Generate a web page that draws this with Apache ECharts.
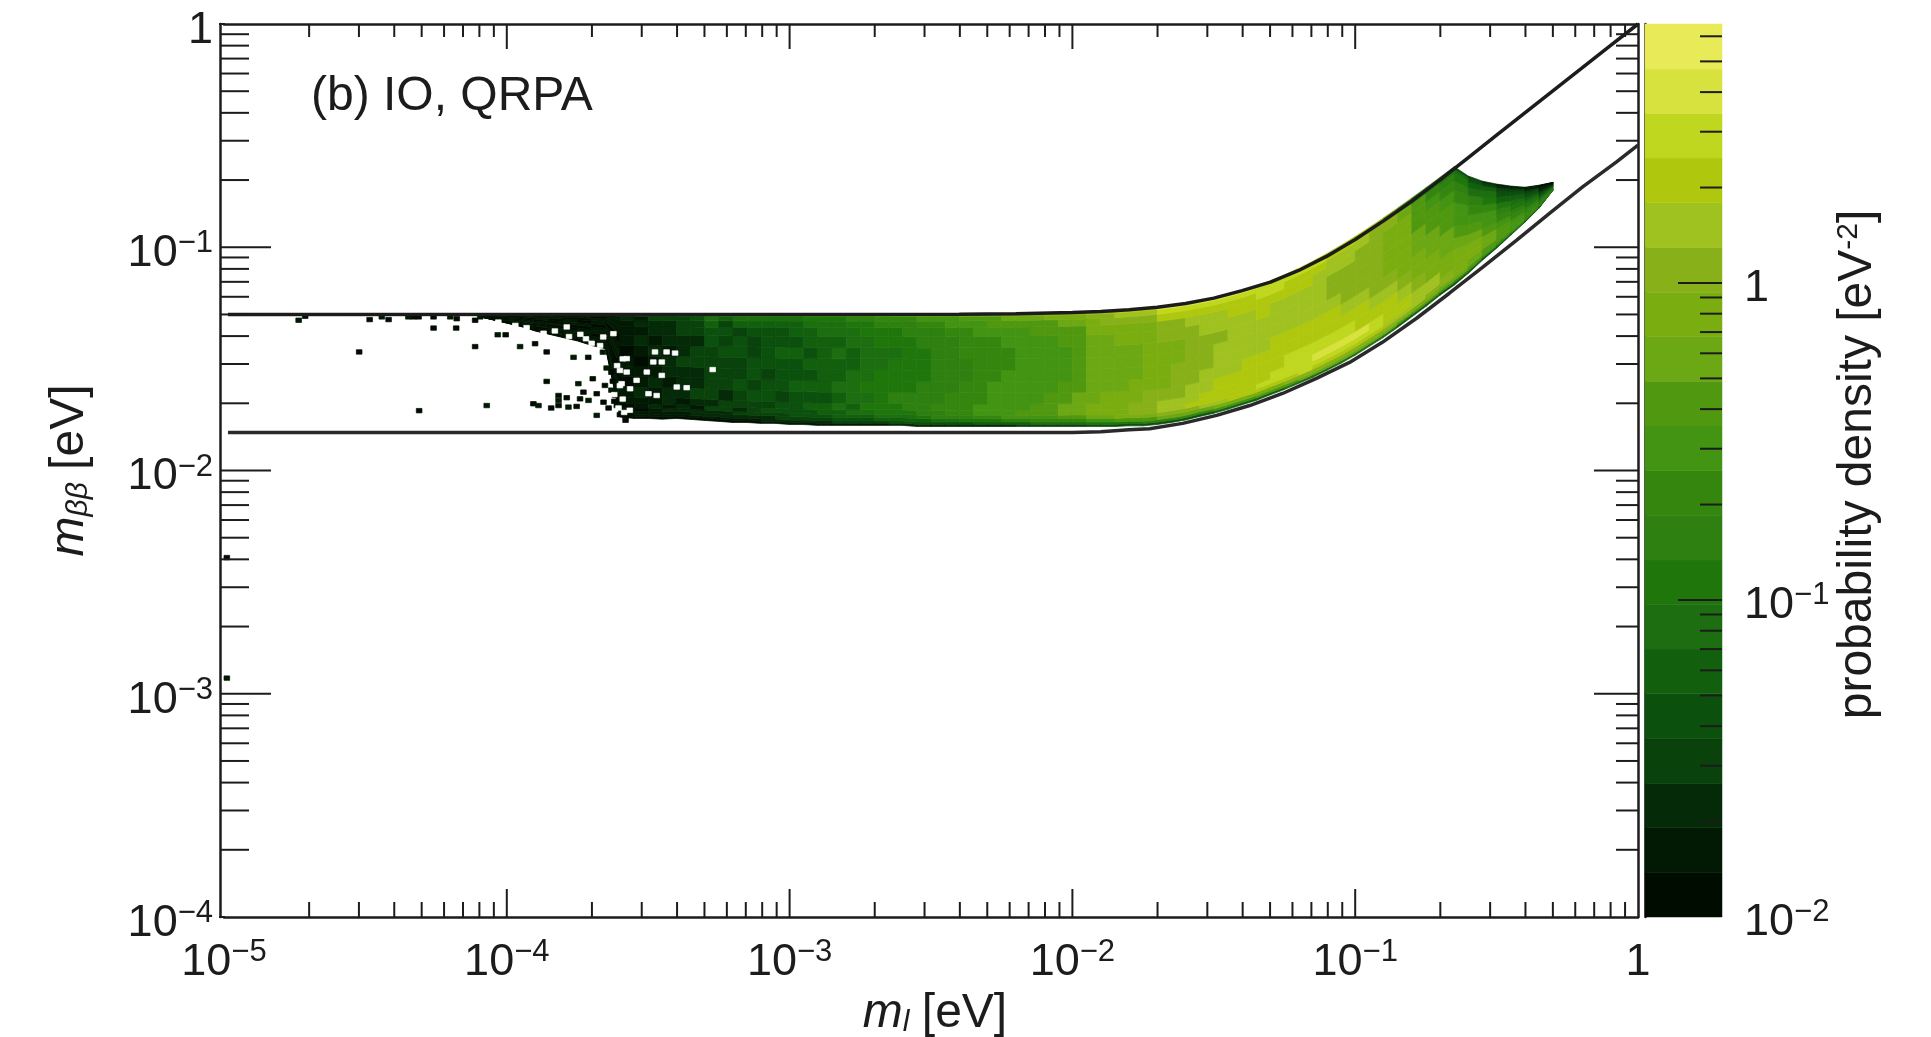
<!DOCTYPE html>
<html><head><meta charset="utf-8">
<style>html,body{margin:0;padding:0;background:#fff;overflow:hidden}#c{width:1931px;height:1037px;filter:blur(0.55px)}</style>
<script src="https://cdn.jsdelivr.net/npm/echarts@6/dist/echarts.min.js"></script>
</head><body><div id="c"></div>
<script>
// colour levels of the palette, bottom of the colour bar first
const levelColors=['#010c00','#021a03','#052a07','#0a420c','#0c500e','#12600e','#1c6e10','#1f770c','#2e8010','#34860f','#429412','#50980f','#6ba814','#7aae10','#88b018','#a0c220','#afc80e','#bfd71e','#d8e23e','#e9ea58'];
// log10(density) at the band edges of the colour bar
const levelEdges=[-2,-1.859,-1.718,-1.578,-1.437,-1.296,-1.155,-1.014,-0.874,-0.733,-0.592,-0.451,-0.310,-0.170,-0.029,0.112,0.253,0.394,0.534,0.675,0.817];
// fraction of the filled band (bottom to top) at the row edges of the density table
const rowFractions=[0,.02,.04,.07,.1,.14,.2,.3,.4,.5,.6,.7,.8,.88,.94,.98,1];
// log10(m) of the first column edge and column width of the density table
const columnStart=-4.10, columnStep=0.05;
// log10(m_bb) of the lower edge of the filled region, one per column edge
const fillLow=[-1.31,-1.325,-1.34,-1.355,-1.375,-1.39,-1.405,-1.42,-1.44,-1.455,-1.76,-1.767,-1.767,-1.77,-1.767,-1.771,-1.776,-1.78,-1.785,-1.785,-1.789,-1.789,-1.794,-1.794,-1.798,-1.798,-1.798,-1.798,-1.798,-1.798,-1.798,-1.803,-1.803,-1.803,-1.803,-1.803,-1.803,-1.803,-1.803,-1.803,-1.803,-1.803,-1.803,-1.803,-1.803,-1.803,-1.80,-1.80,-1.794,-1.785,-1.774,-1.758,-1.744,-1.726,-1.706,-1.686,-1.661,-1.637,-1.610,-1.583,-1.552,-1.520,-1.484,-1.444,-1.404,-1.359,-1.312,-1.265,-1.215,-1.170,-1.117,-1.058,-1.004,-0.946,-0.888,-0.825,-0.744];
// log10(m_bb) of the upper edge of the filled region, one per column edge
const fillHigh=[-1.301,-1.301,-1.301,-1.301,-1.301,-1.301,-1.301,-1.301,-1.301,-1.301,-1.301,-1.301,-1.301,-1.301,-1.301,-1.301,-1.301,-1.301,-1.301,-1.301,-1.301,-1.301,-1.301,-1.301,-1.301,-1.301,-1.301,-1.301,-1.301,-1.301,-1.301,-1.301,-1.301,-1.301,-1.2996,-1.2993,-1.2989,-1.2983,-1.2976,-1.2967,-1.2956,-1.2942,-1.2925,-1.2904,-1.2877,-1.2843,-1.2803,-1.2752,-1.269,-1.2613,-1.2521,-1.2411,-1.228,-1.2125,-1.1944,-1.1736,-1.15,-1.1235,-1.0942,-1.0621,-1.0275,-0.9906,-0.9516,-0.9107,-0.8682,-0.8243,-0.7794,-0.7335,-0.6868,-0.639,-0.681,-0.704,-0.717,-0.726,-0.731,-0.722,-0.709];
// density level per column, bottom row first (a = level 0 ... t = level 19)
const densityColumns=[
"aabaabababaabbab","abaabaabaaabbabb","aababaabbabaabbb","abaabababbaabbab","aabbaaabababbabc",
"abaabbababaabbbc","aabababbaabbabbc","abaabbabbabaabbc","aabbaababbabbabc","abababbaabbabbbc",
"aabbabbabbabbbcc","abbabbcbbabcbcbd","abbbcbbcbbcbccdd","abbcbccbccbcccdd","abbccbcccdccddde",
"abccbcdccddcddee","abccdcdddddeefgg","abccddcdddededfg","abcdcddeddeedfgh","abcdddedeeddefgh",
"bccdedeedeeeefgh","bcddeedeeefeefgh","bcdeeeefeefeffgh","bcdeefefefeffghi","bcdeffefffffgghi",
"bdeffgfgffgfgghi","bdefgfgggffgghij","bdefghghgggghhij","bdfghhhhhgghhijk","cefghhihhhghhijk",
"cefghiihhhhhiijk","cefhiiiihhhiijkl","cegiijiiiiiiijkl","cegijjjiiiiijkkl","cehijjjjiijjjklm",
"cfhjkkjjjjjjkklm","cfhjkkkkjjjjkllm","cfikkkkkkjjkklmn","dfiklkkkkkkkklmn","dgjkllkkkkkkllmn",
"dgjklllkkkkkllno","dgjlmmllkkkllmno","dgjlmmmllllllmno","ehkmnnmmmmmmnnop","ehkmnnnmmmmmnoop",
"ehlnnnnmmmmnnopq","ehlnoonnmmmnnopq","eilnooonnnnnnopq","eimopponnnnooqrs","ejmoppooonnooqrs",
"ejmoqppooooopqrs","ejmpqqppoooppqrs","fknpqqqpppoppqrs","fknqqqqpppppqqrs","fknqqqqqppppqqrs",
"flnqrqqqpppqqrrs","flnqrrqqqpppqrrs","gloqrrrqqpppqqrs","gmorrrrqqpppqqrs","gmoqrsrqqppppqrr",
"gmoqrsrqqpooppqq","gmoqrsrqpoooppqq","gmoqrsqqpooooppq","gmoqrrqpooooooop","gmopqqqponnnnoon",
"flopqqponnnnnmml","flnppponnmmlllkj","flnoppnnmmllkjii","ekmoonnmmllkjihg","ejmnnnnmlkkjihge",
"ejlmmnnmlkjigfed","dhkllmmlkkjhgfdc","dhjklllkjihfedcb","dhjkkkkjihgfedcb","cgijjjjihgfedcbb","cfhiiihgfedcbbaa"];
// isolated occupied bins: log10(m), log10(m_bb)
const sparseX=[-4.736,-4.713,-4.485,-4.442,-4.418,-4.330,-4.348,-4.312,-4.259,-4.200,-4.177,-4.112,-4.094,-4.259,-4.179,-4.032,-4.004,-4.112,-3.953,-3.900,-3.859,-3.764,-3.712,-4.522,-3.647,-3.617,-3.859,-3.747,-3.696,-3.653,-4.071,-4.310,-3.906,-3.888,-3.843,-3.817,-3.817,-3.817,-3.788,-3.782,-3.753,-3.729,-3.711,-3.741,-3.682,-3.682,-3.658,-3.617,-3.611,-3.581,-4.99,-4.99,-3.63,-3.625,-3.63,-3.62,-3.64,-3.66,-3.60,-3.58];
const sparseY=[-1.327,-1.309,-1.324,-1.312,-1.324,-1.312,-1.312,-1.312,-1.312,-1.312,-1.320,-1.327,-1.312,-1.362,-1.362,-1.392,-1.392,-1.445,-1.445,-1.432,-1.469,-1.493,-1.493,-1.469,-1.541,-1.507,-1.601,-1.611,-1.589,-1.619,-1.709,-1.732,-1.701,-1.709,-1.720,-1.664,-1.686,-1.709,-1.674,-1.716,-1.713,-1.649,-1.686,-1.679,-1.656,-1.753,-1.694,-1.664,-1.709,-1.753,-2.39,-2.93,-1.56,-1.60,-1.64,-1.69,-1.72,-1.47,-1.75,-1.775];
// empty bins inside the filled region
const holeX=[-3.476,-3.435,-3.405,-3.576,-3.600,-3.576,-3.482,-3.452,-3.452,-3.505,-3.541,-3.564,-3.594,-3.399,-3.364,-3.499,-3.470,-3.272,-3.788,-3.623,-3.659,-4.03,-3.97,-3.93,-3.87,-3.83,-3.78,-3.74,-3.70,-3.67,-3.72,-3.585,-3.565,-3.59,-3.60,-3.59,-3.61,-3.62,-3.605];
const holeY=[-1.469,-1.469,-1.474,-1.499,-1.552,-1.559,-1.514,-1.514,-1.574,-1.559,-1.596,-1.634,-1.611,-1.626,-1.629,-1.656,-1.664,-1.548,-1.357,-1.387,-1.402,-1.335,-1.35,-1.36,-1.385,-1.375,-1.40,-1.39,-1.43,-1.44,-1.41,-1.74,-1.73,-1.68,-1.62,-1.50,-1.53,-1.66,-1.72];
// boundary curves: log10(m), log10(m_bb)
const upperX=[-4.986,-2.4,-2.2,-2.0,-1.9,-1.8,-1.7,-1.6,-1.5,-1.4,-1.3,-1.2,-1.1,-1.0,-0.9,-0.8,-0.7,-0.6,-0.5,-0.4,-0.3,-0.2,-0.1,0];
const upperY=[-1.301,-1.2996,-1.2976,-1.2925,-1.2877,-1.2803,-1.269,-1.2521,-1.228,-1.1944,-1.156,-1.104,-1.04,-0.965,-0.882,-0.794,-0.698,-0.598,-0.498,-0.398,-0.298,-0.199,-0.099,0];
const lowerX=[-4.986,-2.4,-2.0,-1.9,-1.8,-1.727,-1.610,-1.490,-1.373,-1.257,-1.137,-1.020,-0.904,-0.783,-0.667,-0.550,-0.430,-0.313,-0.197,-0.077,0];
const lowerY=[-1.830,-1.830,-1.830,-1.826,-1.818,-1.813,-1.789,-1.753,-1.709,-1.655,-1.587,-1.516,-1.426,-1.318,-1.206,-1.090,-0.969,-0.848,-0.731,-0.619,-0.543];
// axis ranges and ticks
const xRange=[1e-5,1], yRange=[1e-4,1], zRange=[0.01,6.56];
const multiples=[2,3,4,5,6,7,8,9];
const xDecades=[1e-5,1e-4,1e-3,1e-2,1e-1], yDecades=[1e-4,1e-3,1e-2,1e-1];
const zDecades=[1e-2,1e-1,1];
const zTop=[2,3,4,5,6];
const panelLabel='(b) IO, QRPA';
const INK='#1c1c1c', FONT='"Liberation Sans"';

const P=v=>Math.pow(10,v);
const poly=[];
densityColumns.forEach((col,c)=>{
  const x0=columnStart+c*columnStep,x1=x0+columnStep;
  for(let r=0;r<col.length;r++){
    const lo0=fillLow[c],hi0=fillHigh[c],lo1=fillLow[c+1],hi1=fillHigh[c+1];
    const f0=rowFractions[r],f1=rowFractions[r+1];
    poly.push([P(x0),P(lo0+(hi0-lo0)*f0),P(x1),P(lo1+(hi1-lo1)*f0),P(lo1+(hi1-lo1)*f1),P(lo0+(hi0-lo0)*f1),col.charCodeAt(r)-97]);
  }
});
const BIN=0.02;
sparseX.forEach((x,i)=>{const y=sparseY[i];poly.push([P(x-BIN/2),P(y-BIN/2),P(x+BIN/2),P(y-BIN/2),P(y+BIN/2),P(y+BIN/2),(i%3==0?1:0)]);});
holeX.forEach((x,i)=>{const y=holeY[i];poly.push([P(x-BIN/2),P(y-BIN/2),P(x+BIN/2),P(y-BIN/2),P(y+BIN/2),P(y+BIN/2),-1]);});

function renderQuad(params,api){
  const a=api.coord([api.value(0),api.value(1)]),b=api.coord([api.value(2),api.value(3)]);
  const c=api.coord([api.value(2),api.value(4)]),d=api.coord([api.value(0),api.value(5)]);
  const l=api.value(6),col=l<0?'#ffffff':levelColors[l];
  return {type:'polygon',shape:{points:[a,b,c,d]},style:{fill:col,stroke:col,lineWidth:0.7}};
}
function tickSeries(xi,yi,pts,ox,oy,dx,dy){
  return {type:'custom',xAxisIndex:xi,yAxisIndex:yi,silent:true,animation:false,z:6,data:pts,encode:{x:0,y:1},
    renderItem:(p,api)=>{const q=api.coord([api.value(0),api.value(1)]);
      return {type:'line',shape:{x1:q[0]+ox,y1:q[1]+oy,x2:q[0]+ox+dx,y2:q[1]+oy+dy},style:{stroke:INK,lineWidth:2}};}};
}
const xMinor=[];xDecades.forEach(d=>multiples.forEach(m=>xMinor.push(d*m)));
const yMinor=[];yDecades.forEach(d=>multiples.forEach(m=>yMinor.push(d*m)));
const zMinor=[];zDecades.slice(0,2).forEach(d=>multiples.forEach(m=>zMinor.push(d*m)));zTop.forEach(m=>zMinor.push(m));
const xMajor=xDecades.slice(1), yMajor=yDecades.slice(1), zMajor=zDecades.slice(1);

const richLabel={b:{fontSize:45,fontFamily:FONT,color:INK,lineHeight:48,verticalAlign:'bottom',padding:[13,0,0,0]},
                 s:{fontSize:31,fontFamily:FONT,color:INK,lineHeight:33,verticalAlign:'top',padding:[0,0,28,0]},
                 o:{fontSize:45,fontFamily:FONT,color:INK,lineHeight:48,verticalAlign:'bottom',padding:[13,0,0,0]}};
function fmt(v){const l=Math.log10(v),e=Math.round(l);if(Math.abs(l-e)>1e-6)return '';return e===0?'{o|1}':'{b|10}{s|\u2212'+(-e)+'}';}
const line={lineStyle:{color:INK,width:2.5}};
const titleRich={i:{fontSize:48,fontFamily:FONT,fontStyle:'italic',color:INK},
  sub:{fontSize:30,fontFamily:FONT,fontStyle:'italic',color:INK,verticalAlign:'bottom',padding:[16,9,0,0]},
  t:{fontSize:48,fontFamily:FONT,color:INK}, sup:{fontSize:30,fontFamily:FONT,color:INK,padding:[0,0,18,0]}};

const option={
  animation:false,backgroundColor:'#fff',
  title:{text:panelLabel,left:306,top:68,textStyle:{fontFamily:FONT,fontSize:48,fontWeight:'normal',color:INK}},
  grid:[{left:224,top:24,width:1414,height:893,outerBoundsMode:'none'},{left:1645,top:24,width:77,height:893,outerBoundsMode:'none'}],
  xAxis:[
    {type:'log',gridIndex:0,position:'bottom',min:xRange[0],max:xRange[1],splitLine:{show:false},axisLine:line,axisTick:{show:false},
     axisLabel:{formatter:fmt,margin:20,rich:richLabel,hideOverlap:false,showMinLabel:true,showMaxLabel:true},
     name:'{i|m}{sub|l} {t|[eV]}',nameLocation:'middle',nameGap:73,nameMoveOverlap:false,nameTextStyle:{rich:titleRich,padding:[0,0,0,8]}},
    {type:'log',gridIndex:0,position:'top',min:xRange[0],max:xRange[1],splitLine:{show:false},axisLine:line,axisTick:{show:false},axisLabel:{show:false}},
    {type:'value',gridIndex:1,min:0,max:1,show:false}
  ],
  yAxis:[
    {type:'log',gridIndex:0,position:'left',offset:4,min:yRange[0],max:yRange[1],splitLine:{show:false},axisLine:line,axisTick:{show:false},
     axisLabel:{formatter:fmt,margin:7,padding:[10,0,0,0],rich:richLabel,showMinLabel:true,showMaxLabel:true},
     name:'{i|m}{sub|\u03b2\u03b2} {t|[eV]}',nameLocation:'middle',nameGap:126,nameRotate:90,nameMoveOverlap:false,nameTextStyle:{rich:titleRich}},
    {type:'log',gridIndex:0,position:'right',min:yRange[0],max:yRange[1],splitLine:{show:false},axisLine:line,axisTick:{show:false},axisLabel:{show:false}},
    {type:'log',gridIndex:1,position:'right',min:zRange[0],max:zRange[1],splitLine:{show:false},axisLine:line,axisTick:{show:false},
     axisLabel:{formatter:fmt,margin:22,padding:[8,0,0,0],rich:richLabel,showMinLabel:true,showMaxLabel:true},
     name:'{t|probability density [eV}{sup|-2}{t|]}',nameLocation:'middle',nameGap:112,nameRotate:90,nameMoveOverlap:false,nameTextStyle:{rich:titleRich,padding:[0,0,0,12]}}
  ],
  series:[
    {type:'custom',name:'density',xAxisIndex:0,yAxisIndex:0,silent:true,animation:false,progressive:0,z:2,data:poly,encode:{x:0,y:1},renderItem:renderQuad},
    {type:'line',name:'upper',xAxisIndex:0,yAxisIndex:0,clip:false,showSymbol:false,silent:true,z:4,lineStyle:{color:INK,width:3.5},
     data:upperX.map((x,i)=>[P(x),P(upperY[i])])},
    {type:'line',name:'lower',xAxisIndex:0,yAxisIndex:0,clip:false,showSymbol:false,silent:true,z:4,lineStyle:{color:'#2a2a2a',width:3.5},
     data:lowerX.map((x,i)=>[P(x),P(lowerY[i])])},
    tickSeries(0,0,xMinor.map(x=>[x,yRange[0]]),0,0,0,-15),
    tickSeries(0,0,xMajor.map(x=>[x,yRange[0]]),0,0,0,-28),
    tickSeries(0,0,xMinor.map(x=>[x,yRange[1]]),0,0,0,13),
    tickSeries(0,0,xMajor.map(x=>[x,yRange[1]]),0,0,0,25),
    tickSeries(0,0,yMinor.map(y=>[xRange[0],y]),-4,0,29,0),
    tickSeries(0,0,yMajor.map(y=>[xRange[0],y]),-4,0,51,0),
    tickSeries(0,0,yMinor.map(y=>[xRange[1],y]),0,0,-22,0),
    tickSeries(0,0,yMajor.map(y=>[xRange[1],y]),0,0,-44,0),
    tickSeries(0,0,[[xRange[0],yRange[0]],[xRange[0],yRange[1]]],-5,0,6,0),
    {type:'custom',name:'colour bar',xAxisIndex:2,yAxisIndex:2,silent:true,animation:false,z:2,encode:{x:0,y:1},
     data:levelColors.map((c,i)=>[0,P(levelEdges[i]),1,P(levelEdges[i+1]),i]),
     renderItem:(p,api)=>{const a=api.coord([api.value(0),api.value(1)]),b=api.coord([api.value(2),api.value(3)]);
       const col=levelColors[api.value(4)];
       return {type:'rect',shape:{x:a[0],y:b[1],width:b[0]-a[0],height:a[1]-b[1]},style:{fill:col,stroke:col,lineWidth:0.5}};}},
    tickSeries(2,2,zMinor.map(z=>[1,z]),0,0,-22,0),
    tickSeries(2,2,zMajor.map(z=>[1,z]),0,0,-44,0)
  ]
};
const chart=echarts.init(document.getElementById('c'),null,{renderer:'canvas'});
chart.setOption(option);
</script></body></html>
